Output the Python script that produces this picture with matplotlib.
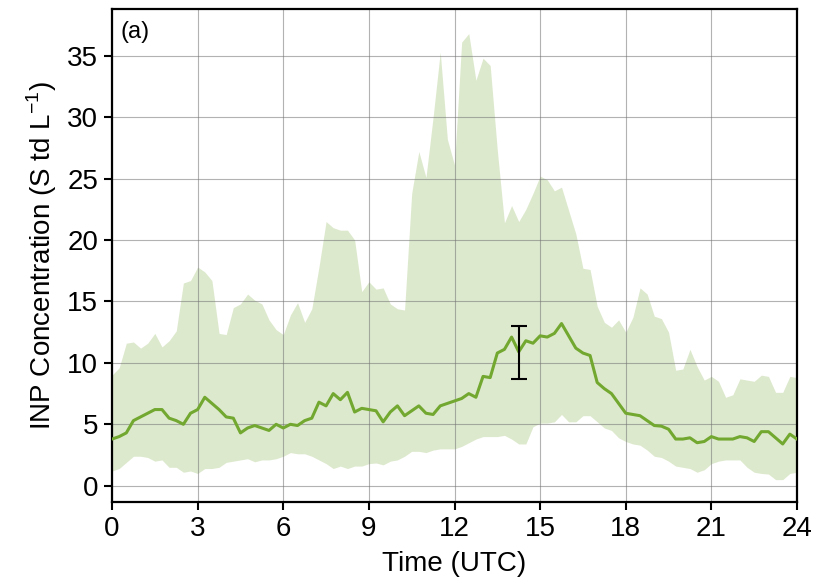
import numpy as np
import matplotlib
matplotlib.use("Agg")
import matplotlib.pyplot as plt

plt.rcParams['font.family'] = ['Liberation Sans', 'DejaVu Sans']

# 15-minute steps over the day
hours = np.arange(0, 24.01, 0.25)

median = [3.8, 4.0, 4.3, 5.3, 5.6, 5.9, 6.2, 6.2, 5.5, 5.3, 5.0, 5.9, 6.2, 7.2, 6.7, 6.2,
          5.6, 5.5, 4.3, 4.7, 4.9, 4.7, 4.5, 5.0, 4.7, 5.0, 4.9, 5.3, 5.5, 6.8, 6.5, 7.5,
          7.0, 7.6, 6.0, 6.3, 6.2, 6.1, 5.2, 6.0, 6.5, 5.7, 6.1, 6.5, 5.9, 5.8, 6.5, 6.7,
          6.9, 7.1, 7.5, 7.2, 8.9, 8.8, 10.8, 11.1, 12.1, 10.9, 11.8, 11.6, 12.2, 12.1, 12.4, 13.2,
          12.2, 11.2, 10.8, 10.6, 8.4, 7.9, 7.5, 6.7, 5.9, 5.8, 5.7, 5.3, 4.9, 4.85, 4.6, 3.8,
          3.8, 3.9, 3.5, 3.6, 4.0, 3.8, 3.8, 3.8, 4.0, 3.9, 3.6, 4.4, 4.4, 3.9, 3.4, 4.2,
          3.8]

upper = [9.0, 9.6, 11.6, 11.7, 11.2, 11.6, 12.4, 11.3, 11.8, 12.6, 16.5, 16.7, 17.8, 17.4, 16.7, 12.4,
         12.3, 14.5, 14.8, 15.6, 15.1, 14.8, 13.5, 12.7, 12.3, 13.9, 14.9, 13.3, 14.4, 17.8, 21.5, 21.0,
         20.8, 20.8, 20.0, 15.8, 16.6, 16.0, 16.1, 14.8, 14.4, 14.3, 23.8, 27.2, 25.1, 30.0, 35.3, 28.2,
         26.1, 36.1, 36.8, 33.0, 34.8, 34.2, 27.3, 21.4, 22.8, 21.5, 22.5, 23.8, 25.2, 24.9, 24.0, 24.3,
         22.4, 20.5, 17.7, 17.6, 14.6, 13.3, 12.9, 13.5, 12.5, 13.7, 16.1, 15.6, 13.8, 13.6, 12.5, 9.4,
         9.5, 11.1, 9.7, 8.6, 8.9, 8.5, 7.2, 7.4, 8.7, 8.6, 8.5, 9.0, 8.9, 7.6, 7.6, 8.9,
         8.8]

lower = [1.2, 1.4, 1.9, 2.4, 2.4, 2.3, 2.0, 2.1, 1.5, 1.5, 1.1, 1.2, 1.0, 1.4, 1.4, 1.5,
         1.9, 2.0, 2.1, 2.2, 1.95, 2.1, 2.1, 2.2, 2.4, 2.7, 2.6, 2.6, 2.4, 2.1, 1.8, 1.4,
         1.6, 1.4, 1.6, 1.6, 1.8, 1.85, 1.7, 2.0, 2.1, 2.4, 2.8, 2.8, 2.7, 2.9, 3.0, 3.0,
         3.0, 3.2, 3.5, 3.8, 4.0, 4.0, 4.0, 4.1, 3.8, 3.4, 3.4, 4.8, 5.1, 5.1, 5.2, 5.8,
         5.2, 5.2, 5.7, 5.7, 5.2, 4.7, 4.5, 3.9, 3.6, 3.4, 3.3, 2.9, 2.4, 2.3, 2.0, 1.6,
         1.5, 1.4, 1.1, 1.3, 1.8, 2.0, 2.1, 2.1, 2.1, 1.5, 1.1, 1.0, 0.95, 0.5, 0.5, 1.0,
         1.1]

# representative uncertainty bar
err_x = 14.25
err_y = 10.85
err_half = 2.15

line_color = '#72a830'
fill_color = '#dde9cd'

fig = plt.figure(figsize=(8.13, 5.84), dpi=100)
ax = fig.add_axes([0.1378, 0.1409, 0.8425, 0.8437])

ax.fill_between(hours, lower, upper, color=fill_color, linewidth=0, zorder=1)
ax.plot(hours, median, color=line_color, linewidth=2.2, zorder=3)
ax.errorbar(err_x, err_y, yerr=err_half, color='black', linewidth=1.5,
            capsize=6, capthick=1.5, zorder=4)

ax.set_xlim(0, 24)
ax.set_ylim(-1.3, 38.8)
ax.set_xticks(np.arange(0, 25, 3))
ax.set_yticks(np.arange(0, 36, 5))
ax.grid(True, color='0.45', linewidth=0.8, alpha=0.55)

for s in ax.spines.values():
    s.set_linewidth(1.6)
ax.tick_params(direction='out', length=6, width=1.5, labelsize=20, pad=4)

ax.set_xlabel('Time (UTC)', fontsize=20, labelpad=7)
ax.set_ylabel('INP Concentration (S td L$^{\\mathregular{-1}}$)', fontsize=20, labelpad=6)
ax.text(0.012, 0.975, '(a)', transform=ax.transAxes, fontsize=17, va='top', ha='left')

fig.savefig('out.png', dpi=100)
